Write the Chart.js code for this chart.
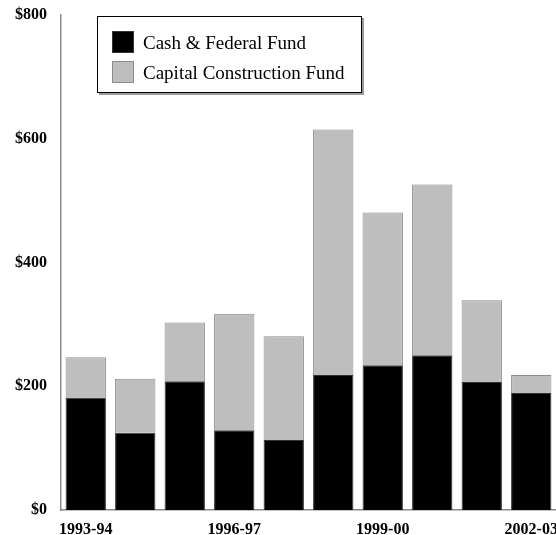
<!DOCTYPE html>
<html>
<head>
<meta charset="utf-8">
<script src="https://cdn.jsdelivr.net/npm/chart.js@4.4.0/dist/chart.umd.min.js"></script>
<style>
  html, body { margin: 0; padding: 0; background: #fff; }
  #wrap { width: 556px; height: 535px; position: relative; }
</style>
</head>
<body>
<div id="wrap"><canvas id="c"></canvas></div>
<script>
"use strict";

// 회계연도 (category)
const years = ["1993-94", "1994-95", "1995-96", "1996-97", "1997-98",
  "1998-99", "1999-00", "2000-01", "2001-02", "2002-03"];
// 축에 표시되는 연도만
const shownYears = ["1993-94", "1996-97", "1999-00", "2002-03"];
// $ 단위 값
const cashFederal = [182, 125, 208, 129, 113, 218, 234, 250, 207, 189];
const capitalConstruction = [65, 87, 95, 188, 168, 397, 247, 276, 132, 29];
const yTicks = [0, 200, 400, 600, 800];

const SERIF = "'Liberation Serif', 'Times New Roman', serif";

// 차트 안쪽 범례 상자 (박스 + 그림자)
const boxLegend = {
  id: "boxLegend",
  afterDraw(chart) {
    const ctx = chart.ctx;
    const x = 97, y = 16, w = 265, h = 77;
    ctx.save();
    ctx.fillStyle = "#9a9a9a";
    ctx.fillRect(x + 2, y + 2, w, h);
    ctx.fillStyle = "#fff";
    ctx.fillRect(x, y, w, h);
    ctx.strokeStyle = "#000";
    ctx.lineWidth = 1;
    ctx.strokeRect(x + 0.5, y + 0.5, w - 1, h - 1);
    ctx.font = `19px ${SERIF}`;
    ctx.textBaseline = "alphabetic";
    chart.data.datasets.forEach((ds, i) => {
      const sy = 31 + i * 30;
      ctx.fillStyle = ds.backgroundColor;
      ctx.fillRect(112, sy, 22, 22);
      ctx.strokeStyle = ds.borderColor;
      ctx.strokeRect(112.5, sy + 0.5, 21, 21);
      ctx.fillStyle = "#000";
      ctx.fillText(ds.label, 143, sy + 18);
    });
    ctx.restore();
  },
};

new Chart(document.getElementById("c").getContext("2d"), {
  type: "bar",
  data: {
    labels: years,
    datasets: [
      {
        label: "Cash & Federal Fund",
        data: cashFederal,
        backgroundColor: "#000000",
        borderColor: "#333333",
        borderWidth: 1,
      },
      {
        label: "Capital Construction Fund",
        data: capitalConstruction,
        backgroundColor: "#bebebe",
        borderColor: "#8c8c8c",
        borderWidth: 1,
      },
    ],
  },
  options: {
    responsive: true,
    maintainAspectRatio: false,
    animation: false,
    layout: { padding: { top: 15, left: 0, right: 0, bottom: 0 } },
    datasets: { bar: { barPercentage: 0.815, categoryPercentage: 1 } },
    plugins: { legend: { display: false }, tooltip: { enabled: false } },
    scales: {
      x: {
        stacked: true,
        grid: { display: false, drawTicks: false },
        border: { display: true, color: "#8a8a8a", width: 1.5 },
        ticks: {
          autoSkip: false,
          maxRotation: 0,
          padding: 10,
          color: "#000",
          font: { family: SERIF, size: 16, weight: "bold" },
          callback: (v, i) => (shownYears.includes(years[i]) ? years[i] : ""),
        },
        afterFit: (s) => {
          // 마지막 라벨은 잘리도록 여백을 두지 않는다
          s.paddingLeft = 0;
          s.paddingRight = 0;
          s.height = 25;
        },
      },
      y: {
        stacked: true,
        min: 0,
        max: 800,
        grid: { display: false, drawTicks: false },
        border: { display: true, color: "#8a8a8a", width: 1.5 },
        afterBuildTicks: (s) => {
          s.ticks = yTicks.map((v) => ({ value: v }));
        },
        afterFit: (s) => {
          s.width = 61;
          s.paddingTop = 0;
          s.paddingBottom = 0;
        },
        ticks: {
          padding: 14,
          color: "#000",
          font: { family: SERIF, size: 16, weight: "bold" },
          callback: (v) => "$" + v,
        },
      },
    },
  },
  plugins: [boxLegend],
});
</script>
</body>
</html>
